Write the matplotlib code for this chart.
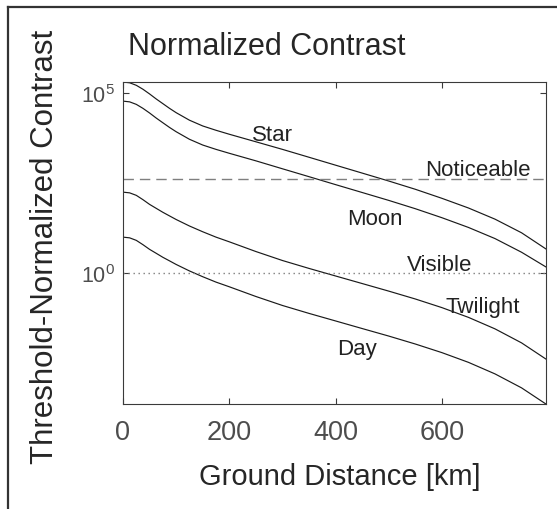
import matplotlib
matplotlib.use("Agg")
import matplotlib.pyplot as plt
from matplotlib.lines import Line2D

plt.rcParams['font.family'] = ['Liberation Sans', 'DejaVu Sans']
plt.rcParams['mathtext.fontset'] = 'custom'
plt.rcParams['mathtext.rm'] = 'Liberation Sans'
plt.rcParams['mathtext.it'] = 'Liberation Sans'

# ---- data ----
distance_km = [0, 12.5, 25, 37.5, 50, 62.5, 75, 87.5, 100, 125, 150, 175, 200,
               250, 300, 350, 400, 450, 500, 550, 600, 650, 700, 750, 796]
star = [2.04e5, 1.95e5, 1.66e5, 1.29e5, 9.55e4, 6.92e4, 5.13e4, 3.80e4, 2.88e4,
        1.78e4, 1.23e4, 9.33e3, 7.24e3, 4.47e3, 2.75e3, 1.66e3, 1.0e3, 603, 363,
        214, 120, 64.6, 31.6, 13.2, 4.68]
moon = [6.03e4, 5.75e4, 4.90e4, 3.80e4, 2.82e4, 2.04e4, 1.51e4, 1.12e4, 8.51e3,
        5.25e3, 3.63e3, 2.75e3, 2.14e3, 1.32e3, 794, 479, 288, 174, 105, 61.7,
        34.7, 18.6, 9.12, 3.80, 1.48]
twilight = [178, 170, 145, 110, 81.3, 63.1, 49.0, 38.9, 30.9, 20.4, 14.1, 10.0,
            7.41, 3.98, 2.24, 1.35, 0.832, 0.513, 0.316, 0.191, 0.110, 0.0589,
            0.0282, 0.0115, 0.00407]
day = [10.0, 9.55, 8.13, 6.17, 4.57, 3.55, 2.75, 2.19, 1.74, 1.15, 0.794, 0.562,
       0.417, 0.224, 0.126, 0.0759, 0.0468, 0.0288, 0.0178, 0.0107, 0.00617,
       0.00331, 0.00158, 6.46e-4, 2.29e-4]
noticeable_level = 400
visible_level = 1.0
x_ticks = [0, 200, 400, 600]
x_tick_labels = ['0', '200', '400', '600']
y_ticks = [1e0, 1e5]
y_tick_labels = [r'$10^{0}$', r'$10^{5}$']

W, H = 557, 510
fig = plt.figure(figsize=(W / 100, H / 100), dpi=100)
ax = fig.add_axes([123 / W, 1 - 405 / H, (546 - 123) / W, (405 - 83) / H])

curve_kw = dict(color='#1a1a1a', lw=0.85, solid_joinstyle='round')
for series in (star, moon, twilight, day):
    ax.plot(distance_km, series, **curve_kw)

ax.axhline(noticeable_level, color='#7f7f7f', lw=1.0, dashes=(7.5, 4.3))
ax.axhline(visible_level, color='#7f7f7f', lw=1.0, dashes=(1.0, 2.6))

ax.set_yscale('log')
ax.set_xlim(0, 796)
ax.set_ylim(2.3e-4, 2.05e5)
ax.set_xticks(x_ticks)
ax.set_xticklabels(x_tick_labels)
ax.set_yticks(y_ticks)
ax.set_yticklabels(y_tick_labels)
ax.minorticks_off()

spine_color = '#3a3a3a'
for s in ax.spines.values():
    s.set_color(spine_color)
    s.set_linewidth(0.8)
ax.tick_params(axis='both', direction='in', length=4, width=0.8, color=spine_color,
               top=True, right=True, labelcolor='#4d4d4d')
ax.tick_params(axis='x', labelsize=19.5, pad=11)
ax.tick_params(axis='y', labelsize=15.5, pad=6)

ax.set_xlabel('Ground Distance [km]', fontsize=21, color='#262626')
ax.xaxis.set_label_coords((340 - 123) / 423, (405 - 477) / 322)
ax.xaxis.label.set_va('center')
ax.set_ylabel('Threshold-Normalized Contrast', fontsize=22.5, color='#262626')
ax.yaxis.set_label_coords((45 - 123) / 423, (405 - 247) / 322)
ax.yaxis.label.set_va('center')

fig.text(128 / W, 1 - 47 / H, 'Normalized Contrast', fontsize=22, color='#262626',
         ha='left', va='center')

ann_kw = dict(fontsize=16, color='#222222', ha='center', va='center')
ax.text(282, 7.2e3, 'Star', **ann_kw)
ax.text(668, 776, 'Noticeable', **ann_kw)
ax.text(474, 34, 'Moon', **ann_kw)
ax.text(596, 1.78, 'Visible', **ann_kw)
ax.text(677, 0.12, 'Twilight', **ann_kw)
ax.text(440, 7.8e-3, 'Day', **ann_kw)

# figure frame (left and top edges visible)
fig.add_artist(Line2D([7.5 / W, 7.5 / W], [0, 1 - 7.5 / H], transform=fig.transFigure,
                      color='#333333', lw=1.6))
fig.add_artist(Line2D([7.5 / W, 1], [1 - 7.5 / H, 1 - 7.5 / H], transform=fig.transFigure,
                      color='#333333', lw=1.6))

fig.savefig('out.png', dpi=100)
